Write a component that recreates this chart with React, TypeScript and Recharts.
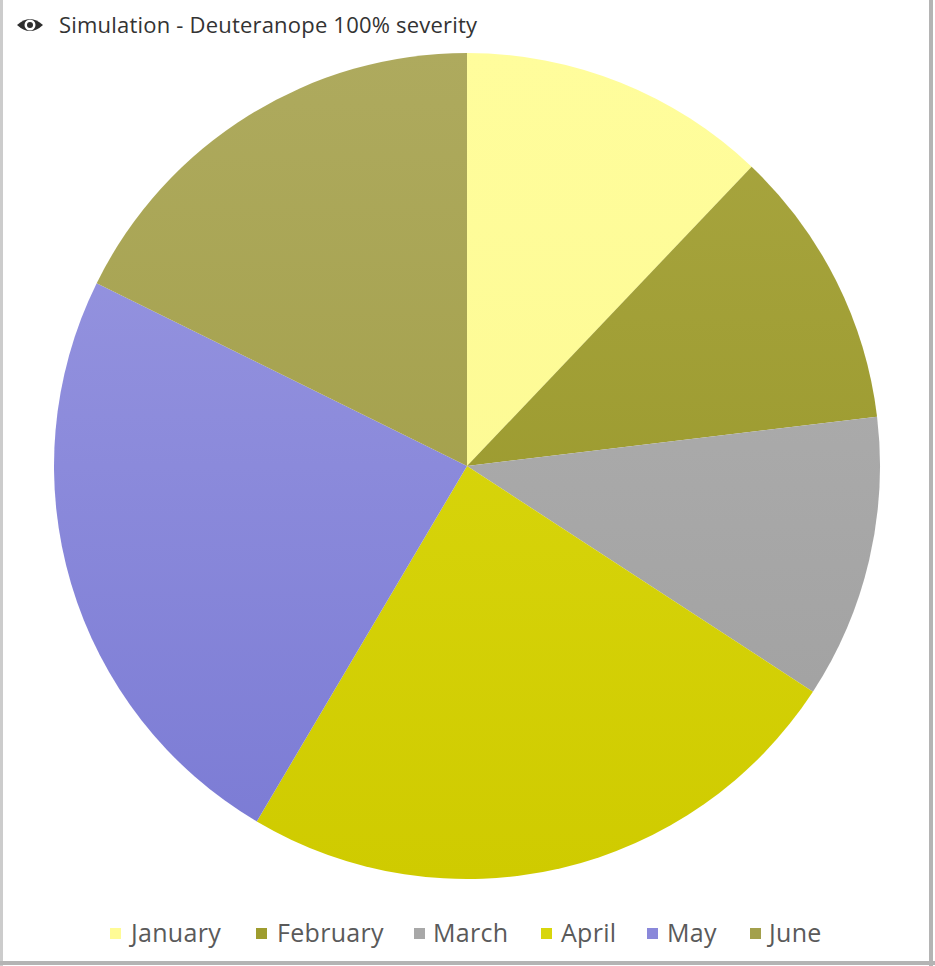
import React from "react";
import { PieChart, Pie, Cell, Legend } from "recharts";

const months = ["January", "February", "March", "April", "May", "June"];
const values = [12.1, 11.0, 11.1, 24.3, 23.8, 17.7];
const topColors = ["#fffd9c", "#a9a641", "#b3b3b3", "#dedc14", "#9c9ae2", "#aeaa5e"];
const bottomColors = ["#fbf88e", "#939322", "#9e9e9e", "#cfcb00", "#7a7ad4", "#9d9a3e"];
const legendColors = ["#fffb96", "#9e9c2e", "#a8a8a8", "#d8d60c", "#8a88da", "#a3a04c"];
const title = "Simulation - Deuteranope 100% severity";

const data = months.map((m, i) => ({ name: m, value: values[i] }));

const squareX = [110, 256, 414, 541, 647, 750];
const textX = [131, 277, 433, 561, 667, 769];

const renderLegend = () => (
  <div style={{ position: "relative", width: 935, height: 40 }}>
    {months.map((m, i) => (
      <React.Fragment key={m}>
        <span
          style={{
            position: "absolute",
            left: squareX[i],
            top: 14,
            width: 11,
            height: 11,
            background: legendColors[i],
          }}
        />
        <span
          style={{
            position: "absolute",
            left: textX[i],
            top: 0,
            fontFamily: "'Open Sans', 'Noto Sans', sans-serif",
            fontSize: 25,
            lineHeight: "36px",
            color: "#5a5a5a",
            whiteSpace: "nowrap",
            letterSpacing: 0.3,
          }}
        >
          {m}
        </span>
      </React.Fragment>
    ))}
  </div>
);

export default function App() {
  return (
    <div
      style={{
        position: "absolute",
        left: 0,
        top: 0,
        width: 935,
        height: 966,
        background: "#ffffff",
        overflow: "hidden",
      }}
    >
      <div
        style={{
          position: "absolute",
          left: 0,
          top: 0,
          width: 3,
          height: 966,
          background: "#cccccc",
        }}
      />
      <div
        style={{
          position: "absolute",
          left: 929,
          top: 0,
          width: 4,
          height: 966,
          background: "#b4b4b4",
        }}
      />
      <div
        style={{
          position: "absolute",
          left: 0,
          top: 961,
          width: 935,
          height: 4,
          background: "#b4b4b4",
        }}
      />
      <svg
        width={40}
        height={30}
        style={{ position: "absolute", left: 14, top: 10 }}
      >
        <path d="M3 15 Q16 3 29 15 Q16 27 3 15 Z" fill="#2e2e2e" />
        <circle cx={16} cy={15} r={5.5} fill="#ffffff" />
        <circle cx={16} cy={15} r={3} fill="#2e2e2e" />
      </svg>
      <div
        style={{
          position: "absolute",
          left: 59,
          top: 6,
          fontFamily: "'Open Sans', 'Noto Sans', sans-serif",
          fontSize: 22,
          lineHeight: "36px",
          color: "#333333",
          whiteSpace: "nowrap",
          letterSpacing: 0.2,
        }}
      >
        {title}
      </div>
      <div style={{ position: "absolute", left: 0, top: 0 }}>
        <PieChart width={935} height={966}>
          <defs>
            {months.map((m, i) => (
              <linearGradient
                key={m}
                id={`grad${i}`}
                gradientUnits="userSpaceOnUse"
                x1={0}
                y1={52}
                x2={0}
                y2={880}
              >
                <stop offset="0%" stopColor={topColors[i]} />
                <stop offset="100%" stopColor={bottomColors[i]} />
              </linearGradient>
            ))}
          </defs>
          <Pie
            data={data}
            dataKey="value"
            nameKey="name"
            cx={462}
            cy={461}
            outerRadius={413}
            startAngle={90}
            endAngle={-270}
            stroke="none"
            isAnimationActive={false}
          >
            {data.map((d, i) => (
              <Cell key={d.name} fill={`url(#grad${i})`} />
            ))}
          </Pie>
          <Legend
            content={renderLegend}
            layout="horizontal"
            verticalAlign="bottom"
            wrapperStyle={{ left: 0, top: 914, width: 935 }}
          />
        </PieChart>
      </div>
    </div>
  );
}
